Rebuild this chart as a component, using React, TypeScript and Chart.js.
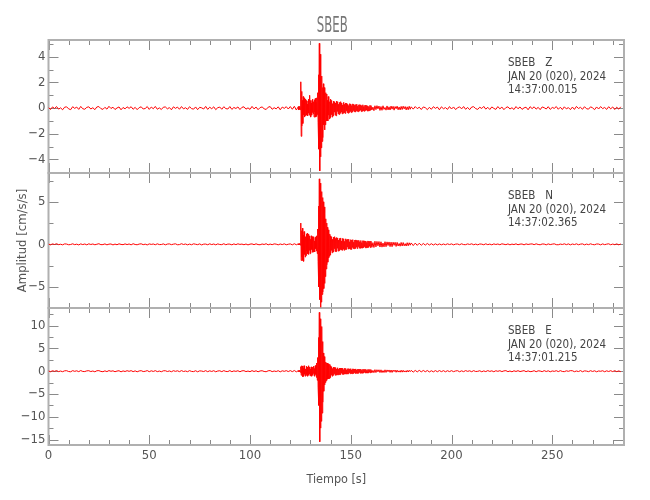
import { useEffect, useRef } from "react";
import { Chart, registerables } from "chart.js";

Chart.register(...registerables);

// ---------- text ----------
const STATION = "SBEB";
const COMPONENTS = ["Z", "N", "E"];
const DATE_LABEL = "JAN 20 (020), 2024";
const START_TIMES = ["14:37:00.015", "14:37:02.365", "14:37:01.215"];
const X_TITLE = "Tiempo [s]";
const Y_TITLE = "Amplitud [cm/s/s]";

// ---------- axes ----------
const X_MIN = 0;
const X_MAX = 285.6;
const X_MAJOR = 50;
const X_MINOR = 10;
const Y_MINS = [-5.06, -7.49, -16.2];
const Y_MAXS = [5.31, 8.39, 13.87];
const Y_MAJORS = [2, 5, 5];
const Y_MINORS = [1, 2.5, 2.5];

// ---------- sampling grid of the traces (segment start time [s], sample step [s]) ----------
const SEG_STARTS = [0, 124, 140, 160, 180];
const SEG_STEPS = [1, 0.2, 0.25, 0.5, 1];

// ---------- Z component (cm/s/s) ----------
const zPre = [
  0.05, -0.11, 0.09, -0.03, 0.12, -0.08, 0.02, -0.13, 0.07, 0.1, -0.06, -0.12, 0.11, -0.02, 0.08, -0.1, 0.13, -0.05, -0.09, 0.06,
  0.1, -0.07, 0.03, -0.12, 0.09, 0.12, -0.04, -0.1, 0.06, -0.08, 0.14, -0.03, 0.07, -0.11, 0.01, 0.09, -0.13, 0.05, -0.06, 0.1,
  -0.02, 0.11, -0.09, 0.06, -0.12, 0.04, 0.1, -0.07, -0.03, 0.12, -0.1, 0.08, -0.05, 0.13, -0.09, 0.02, -0.11, 0.07, 0.09, -0.06,
  0.04, -0.13, 0.1, -0.02, 0.08, -0.09, 0.12, -0.06, 0.03, -0.1, 0.11, -0.04, -0.08, 0.09, -0.12, 0.06, 0.02, -0.07, 0.13, -0.1,
  0.07, -0.05, 0.1, -0.12, 0.03, 0.08, -0.09, 0.11, -0.04, -0.07, 0.12, -0.1, 0.05, -0.03, 0.09, -0.11, 0.06, 0.1, -0.08, 0.02,
  -0.1, 0.13, -0.06, 0.08, -0.12, 0.04, 0.09, -0.05, -0.11, 0.07, 0.12, -0.09, 0.03, -0.06, 0.1, -0.13, 0.08, -0.02, 0.11, -0.07,
  0.12, -0.09, 0.14, -0.15,
];
const zOnset = [
  0.12, -0.15, 0.05, -0.1, 0.15, -0.13,
  2.05, -2.2, 1.3, -1.4, 0.6, -1.2, 0.9, -0.5, 0.8, -0.7,
  0.45, -0.6, 0.7, -0.35, 0.6, -0.55, 0.3, -0.6, 0.55, -0.4,
  0.7, -0.55, 1.0, -0.3, 0.6, -0.7, 0.4, -0.55, 0.6, -0.35,
  0.7, -0.45, 0.5, -0.7, 0.65, -0.3, 0.75, -0.7, 0.45, -0.65,
  0.8, -0.5, 1.2, -1.1,
  2.6, -3.2, 5.05, -4.9, 4.2, -3.8, 2.9, -3.1,
  2.5, -2.6, 1.6, -2.3, 1.9, -1.3, 1.6, -1.7, 1.0, -1.3, 1.2, -0.8, 1.1, -1.0, 0.6, -1.0, 0.9, -0.55, 0.8, -0.85, 0.5, -0.75,
];
const zCoda = [
  0.7, -0.5, 0.6, -0.7, 0.35, -0.6, 0.55, -0.3, 0.5, -0.55,
  0.4, -0.6, 0.55, -0.25, 0.5, -0.45, 0.3, -0.5, 0.45, -0.4,
  0.5, -0.3, 0.4, -0.45, 0.25, -0.4, 0.45, -0.35, 0.3, -0.42,
  0.4, -0.2, 0.38, -0.35, 0.3, -0.4, 0.2, -0.33, 0.35, -0.25,
  0.32, -0.35, 0.2, -0.3, 0.33, -0.18, 0.3, -0.28, 0.22, -0.3,
  0.28, -0.2, 0.3, -0.25, 0.15, -0.28, 0.26, -0.22, 0.27, -0.15,
  0.25, -0.27, 0.18, -0.24, 0.26, -0.2, 0.12, -0.25, 0.22, -0.18,
  0.24, -0.15, 0.2, -0.23, 0.17, -0.22, 0.1, -0.2, 0.21, -0.16,
];
const zLate = [
  0.2, -0.15, 0.08, -0.2, 0.18, -0.12, 0.19, -0.06, 0.16, -0.18,
  0.12, -0.17, 0.18, -0.1, 0.05, -0.16, 0.17, -0.14, 0.1, -0.15,
  0.16, -0.08, 0.14, -0.16, 0.12, -0.05, 0.15, -0.13, 0.09, -0.14,
  0.13, -0.11, 0.15, -0.06, 0.12, -0.14, 0.1, -0.13, 0.14, -0.09,
];
const zPost = [
  0.1, -0.08, 0.12, -0.04, 0.07, -0.11, 0.09, 0.03, -0.12, 0.06, -0.09, 0.11, -0.02, 0.08, -0.13, 0.1, -0.05, 0.04, -0.1, 0.12,
  -0.07, 0.09, -0.11, 0.02, 0.1, -0.06, 0.12, -0.09, 0.05, -0.12, 0.08, 0.11, -0.04, -0.1, 0.07, -0.03, 0.13, -0.08, 0.06, -0.11,
  0.09, -0.02, -0.1, 0.12, -0.06, 0.08, -0.12, 0.04, 0.1, -0.07, 0.03, -0.11, 0.12, -0.05, 0.09, -0.1, 0.02, 0.07, -0.13, 0.11,
  -0.04, 0.1, -0.08, 0.06, -0.12, 0.09, 0.03, -0.07, 0.11, -0.1, 0.05, -0.02, 0.12, -0.09, 0.07, -0.11, 0.1, -0.06, 0.04, -0.12,
  0.08, -0.1, 0.13, -0.03, 0.06, -0.09, 0.11, -0.05, -0.08, 0.1, 0.02, -0.12, 0.09, -0.07, 0.12, -0.04, 0.05, -0.1, 0.11, -0.06,
  0.09, -0.11, 0.07, -0.08, 0.1,
];

// ---------- N component ----------
const nPre = [
  0.03, -0.06, 0.05, -0.02, 0.07, -0.04, 0.01, -0.06, 0.05, 0.03, -0.05, -0.02, 0.06, -0.04, 0.02, -0.07, 0.05, -0.03, 0.04, -0.06,
  0.06, -0.02, 0.04, -0.05, 0.01, 0.07, -0.04, -0.03, 0.05, -0.06, 0.02, 0.04, -0.07, 0.03, -0.05, 0.06, -0.01, -0.04, 0.05, -0.03,
  0.04, -0.06, 0.07, -0.02, -0.05, 0.03, 0.06, -0.04, 0.02, -0.07, 0.05, -0.01, 0.04, -0.05, 0.06, -0.03, -0.02, 0.05, -0.06, 0.03,
  0.05, -0.04, 0.02, 0.06, -0.05, -0.03, 0.07, -0.02, 0.04, -0.06, 0.03, -0.05, 0.06, 0.01, -0.04, 0.05, -0.07, 0.02, 0.03, -0.05,
  0.06, -0.03, 0.04, -0.06, 0.05, -0.02, -0.04, 0.07, -0.05, 0.03, 0.02, -0.06, 0.05, -0.04, 0.06, -0.01, 0.03, -0.05, 0.04, -0.07,
  0.02, 0.05, -0.04, 0.06, -0.03, -0.05, 0.04, -0.02, 0.07, -0.06, 0.03, -0.04, 0.05, 0.02, -0.06, 0.04, -0.03, 0.06, -0.05, 0.01,
  0.05, -0.06, 0.07, -0.05,
];
const nOnset = [
  0.06, -0.07, 0.08, -0.06, 0.1, -0.1,
  2.5, -1.9, 1.6, -1.5, 1.9, -1.9, 1.1, -2.0, 1.5, -1.2,
  1.4, -1.5, 0.9, -1.3, 1.2, -0.8, 1.3, -1.1, 0.7, -1.2,
  1.2, -0.7, 1.0, -1.1, 0.6, -1.0, 1.0, -0.6, 0.9, -0.95,
  0.5, -0.9, 0.9, -0.8, 0.4, -0.9, 0.8, -0.5, 0.9, -0.8,
  1.0, -1.1, 1.8, -2.0,
  4.5, -5.0, 7.7, -6.5, 7.2, -7.4, 6.6, -6.8,
  6.2, -5.9, 5.5, -5.6, 5.0, -5.2, 4.4, -4.6, 3.6, -3.8, 3.0, -2.9, 2.5, -2.4, 2.0, -2.1, 1.7, -1.6, 1.4, -1.4, 1.2, -1.25,
];
const nCoda = [
  1.0, -0.7, 0.9, -1.0, 0.6, -0.9, 0.85, -0.5, 0.9, -0.85,
  0.7, -0.85, 0.8, -0.45, 0.75, -0.8, 0.5, -0.75, 0.7, -0.6,
  0.75, -0.65, 0.4, -0.7, 0.7, -0.55, 0.65, -0.7, 0.35, -0.6,
  0.65, -0.6, 0.55, -0.3, 0.6, -0.55, 0.6, -0.5, 0.3, -0.58,
  0.55, -0.6, 0.5, -0.35, 0.55, -0.5, 0.25, -0.52, 0.5, -0.48,
  0.52, -0.3, 0.48, -0.5, 0.45, -0.25, 0.47, -0.45, 0.3, -0.46,
  0.45, -0.42, 0.2, -0.44, 0.43, -0.38, 0.42, -0.25, 0.4, -0.41,
  0.38, -0.4, 0.22, -0.38, 0.4, -0.35, 0.37, -0.2, 0.36, -0.38,
];
const nLate = [
  0.38, -0.35, 0.2, -0.37, 0.36, -0.3, 0.34, -0.18, 0.33, -0.32,
  0.3, -0.33, 0.15, -0.3, 0.31, -0.28, 0.29, -0.14, 0.28, -0.27,
  0.26, -0.28, 0.25, -0.12, 0.24, -0.25, 0.23, -0.2, 0.1, -0.22,
  0.22, -0.2, 0.21, -0.18, 0.08, -0.2, 0.19, -0.17, 0.18, -0.1,
];
const nPost = [
  0.16, -0.15, 0.14, -0.12, 0.13, -0.11, 0.1, -0.09, 0.1, -0.08, 0.07, -0.08, 0.06, -0.07, 0.05, -0.06, 0.04, -0.05, 0.06, -0.03,
  0.05, -0.06, 0.02, 0.04, -0.05, 0.06, -0.03, -0.04, 0.05, -0.02, 0.06, -0.05, 0.03, -0.06, 0.04, 0.02, -0.05, 0.06, -0.04, 0.03,
  -0.06, 0.05, -0.02, 0.04, -0.05, 0.06, 0.01, -0.04, 0.05, -0.06, 0.03, -0.03, 0.06, -0.05, 0.02, 0.04, -0.06, 0.05, -0.02, 0.03,
  0.05, -0.04, 0.06, -0.02, -0.05, 0.04, 0.03, -0.06, 0.05, -0.03, 0.02, 0.06, -0.04, -0.05, 0.03, -0.02, 0.06, -0.04, 0.05, -0.06,
  0.04, -0.03, 0.06, -0.05, 0.02, 0.05, -0.06, 0.03, -0.04, 0.06, -0.02, -0.05, 0.04, 0.03, -0.06, 0.05, -0.04, 0.02, 0.06, -0.05,
  0.03, -0.04, 0.05, -0.06, 0.04,
];

// ---------- E component ----------
const ePre = [
  0.06, -0.12, 0.1, -0.04, 0.13, -0.09, 0.03, -0.11, 0.08, 0.11, -0.07, -0.13, 0.12, -0.03, 0.09, -0.1, 0.14, -0.06, -0.08, 0.07,
  0.11, -0.08, 0.04, -0.13, 0.1, 0.12, -0.05, -0.11, 0.07, -0.09, 0.13, -0.02, 0.08, -0.12, 0.03, 0.1, -0.14, 0.06, -0.07, 0.11,
  -0.03, 0.12, -0.1, 0.07, -0.13, 0.05, 0.11, -0.08, -0.02, 0.13, -0.11, 0.09, -0.06, 0.12, -0.1, 0.03, -0.12, 0.08, 0.1, -0.07,
  0.05, -0.12, 0.11, -0.03, 0.09, -0.1, 0.13, -0.07, 0.04, -0.11, 0.12, -0.05, -0.09, 0.1, -0.13, 0.07, 0.03, -0.08, 0.12, -0.11,
  0.08, -0.06, 0.11, -0.13, 0.04, 0.09, -0.1, 0.12, -0.05, -0.08, 0.13, -0.11, 0.06, -0.04, 0.1, -0.12, 0.07, 0.11, -0.09, 0.03,
  -0.11, 0.12, -0.07, 0.09, -0.13, 0.05, 0.1, -0.06, -0.12, 0.08, 0.13, -0.1, 0.04, -0.07, 0.11, -0.14, 0.09, -0.03, 0.12, -0.08,
  0.13, -0.1, 0.15, -0.14,
];
const eOnset = [
  0.12, -0.1, 0.15, -0.12, 0.2, -0.25,
  1.0, -0.9, 1.2, -0.5, 1.1, -1.2, 0.6, -1.1, 1.2, -0.7,
  0.9, -1.1, 0.5, -0.9, 1.1, -0.6, 0.9, -1.1, 0.4, -0.9,
  1.2, -0.6, 0.9, -1.0, 0.5, -0.9, 0.95, -1.1, 0.6, -0.9,
  0.9, -0.5, 1.1, -0.9, 0.6, -1.1, 1.2, -0.7, 1.3, -1.4,
  1.8, -2.0, 3.0, -3.5,
  7.4, -7.5, 12.9, -15.5, 11.5, -12.5, 10.8, -11.0,
  9.8, -9.2, 6.5, -6.8, 4.0, -4.4, 3.2, -3.0, 2.4, -2.5, 2.0, -2.1, 1.8, -1.9, 1.8, -1.7, 1.6, -1.7, 1.5, -1.6, 1.5, -1.4,
];
const eCoda = [
  1.2, -0.8, 1.0, -1.1, 0.6, -0.9, 0.9, -0.55, 0.85, -0.9,
  0.8, -0.85, 0.5, -0.8, 0.75, -0.8, 0.45, -0.75, 0.7, -0.75,
  0.7, -0.4, 0.7, -0.68, 0.65, -0.7, 0.35, -0.62, 0.65, -0.6,
  0.6, -0.62, 0.3, -0.6, 0.55, -0.58, 0.55, -0.3, 0.5, -0.55,
  0.55, -0.5, 0.28, -0.55, 0.52, -0.5, 0.5, -0.3, 0.48, -0.5,
  0.5, -0.45, 0.25, -0.48, 0.47, -0.45, 0.45, -0.22, 0.44, -0.45,
  0.45, -0.42, 0.2, -0.44, 0.42, -0.4, 0.4, -0.2, 0.41, -0.4,
  0.4, -0.38, 0.18, -0.4, 0.38, -0.37, 0.37, -0.2, 0.36, -0.35,
];
const eLate = [
  0.35, -0.34, 0.18, -0.33, 0.34, -0.3, 0.32, -0.15, 0.31, -0.3,
  0.3, -0.31, 0.14, -0.29, 0.3, -0.27, 0.28, -0.12, 0.27, -0.26,
  0.26, -0.27, 0.24, -0.1, 0.25, -0.24, 0.23, -0.2, 0.1, -0.22,
  0.22, -0.21, 0.2, -0.19, 0.08, -0.2, 0.19, -0.18, 0.2, -0.1,
];
const ePost = [
  0.18, -0.2, 0.17, -0.15, 0.18, -0.14, 0.16, -0.12, 0.15, -0.16, 0.1, -0.14, 0.13, -0.12, 0.14, -0.1, 0.12, -0.13, 0.11, -0.09,
  0.12, -0.1, 0.05, 0.11, -0.12, 0.08, -0.1, 0.13, -0.04, 0.09, -0.11, 0.12, -0.07, -0.03, 0.1, -0.12, 0.06, -0.09, 0.13, -0.05,
  0.08, -0.12, 0.1, -0.03, 0.11, -0.09, 0.06, 0.12, -0.1, 0.04, -0.13, 0.09, -0.06, 0.11, -0.08, 0.02, 0.12, -0.11, 0.07, -0.1,
  -0.05, 0.11, -0.12, 0.08, 0.03, -0.1, 0.12, -0.07, 0.09, -0.13, 0.05, -0.04, 0.11, -0.09, 0.12, -0.06, -0.1, 0.08, -0.03, 0.12,
  0.1, -0.11, 0.04, -0.08, 0.13, -0.12, 0.07, 0.02, -0.1, 0.11, -0.06, 0.09, -0.13, 0.05, -0.02, 0.1, -0.12, 0.08, -0.07, 0.11,
  -0.09, 0.12, -0.1, 0.06, -0.11,
];

const TRACES = [
  [zPre, zOnset, zCoda, zLate, zPost],
  [nPre, nOnset, nCoda, nLate, nPost],
  [ePre, eOnset, eCoda, eLate, ePost],
];

// ---------- styles ----------
const FONT = '"Liberation Sans Narrow", "DejaVu Sans Condensed", "Liberation Sans", sans-serif';
const TEXT_COLOR = "#555";
const FRAME_COLOR = "#b0b0b0";
const TICK_COLOR = "#8a8a8a";
const LINE_COLOR = "#ff0000";
const PANEL_IDS = ["yZ", "yN", "yE"];
const PANEL_WEIGHTS = [133, 135, 137];

function buildPoints(segs: number[][]) {
  const pts: { x: number; y: number }[] = [];
  segs.forEach((vals, s) => {
    vals.forEach((v, i) => {
      pts.push({ x: SEG_STARTS[s] + i * SEG_STEPS[s], y: v });
    });
  });
  return pts;
}

const minus = (v: number | string) => String(v).replace("-", "\u2212");

const seisPlugin = {
  id: "seisFrame",
  beforeDatasetsDraw(chart: any) {
    const ctx = chart.ctx as CanvasRenderingContext2D;
    const xs = chart.scales.x;
    const { left, right } = chart.chartArea;
    ctx.save();
    PANEL_IDS.forEach((id, k) => {
      const ys = chart.scales[id];
      const top = ys.top;
      const bottom = ys.bottom;
      ctx.strokeStyle = TICK_COLOR;
      ctx.lineWidth = 1;
      ctx.beginPath();
      const i0 = Math.ceil(Y_MINS[k] / Y_MINORS[k]);
      const i1 = Math.floor(Y_MAXS[k] / Y_MINORS[k]);
      for (let i = i0; i <= i1; i++) {
        const v = i * Y_MINORS[k];
        const py = Math.round(ys.getPixelForValue(v)) + 0.5;
        const major = Math.abs(v / Y_MAJORS[k] - Math.round(v / Y_MAJORS[k])) < 1e-6;
        const len = major ? 10 : 5;
        ctx.moveTo(left, py);
        ctx.lineTo(left + len, py);
        ctx.moveTo(right, py);
        ctx.lineTo(right - len, py);
      }
      const n = Math.floor(X_MAX / X_MINOR);
      for (let i = 0; i <= n; i++) {
        const t = i * X_MINOR;
        const px = Math.round(xs.getPixelForValue(t)) + 0.5;
        const major = t % X_MAJOR === 0;
        const len = major ? 10 : 5;
        ctx.moveTo(px, top);
        ctx.lineTo(px, top + len);
        ctx.moveTo(px, bottom);
        ctx.lineTo(px, bottom - len);
      }
      ctx.stroke();
      ctx.strokeStyle = FRAME_COLOR;
      ctx.lineWidth = 2;
      ctx.strokeRect(left, top, right - left, bottom - top);
    });
    ctx.restore();
  },
  afterDraw(chart: any) {
    const ctx = chart.ctx as CanvasRenderingContext2D;
    const { left, right, top, bottom } = chart.chartArea;
    const cx = (left + right) / 2;
    // title
    ctx.save();
    ctx.fillStyle = "#777";
    ctx.font = `21px ${FONT}`;
    ctx.textAlign = "center";
    ctx.textBaseline = "alphabetic";
    ctx.translate(cx - 4, 32);
    ctx.scale(0.62, 1);
    ctx.fillText(STATION, 0, 0);
    ctx.restore();
    // x title
    ctx.save();
    ctx.fillStyle = TEXT_COLOR;
    ctx.font = `12.5px ${FONT}`;
    ctx.textAlign = "center";
    ctx.textBaseline = "alphabetic";
    ctx.fillText(X_TITLE, cx, bottom + 38);
    ctx.restore();
    // y title
    ctx.save();
    ctx.fillStyle = TEXT_COLOR;
    ctx.font = `13px ${FONT}`;
    ctx.textAlign = "center";
    ctx.textBaseline = "middle";
    ctx.translate(22.5, (top + bottom) / 2 - 2);
    ctx.rotate(-Math.PI / 2);
    ctx.fillText(Y_TITLE, 0, 0);
    ctx.restore();
    // panel annotations
    PANEL_IDS.forEach((id, k) => {
      const ys = chart.scales[id];
      ctx.save();
      ctx.fillStyle = "#444";
      ctx.font = `11.5px ${FONT}`;
      ctx.textAlign = "left";
      ctx.textBaseline = "alphabetic";
      const x0 = 508;
      ctx.fillText(`${STATION}   ${COMPONENTS[k]}`, x0, ys.top + 26);
      ctx.fillText(DATE_LABEL, x0, ys.top + 40);
      ctx.fillText(START_TIMES[k], x0, ys.top + 53);
      ctx.restore();
    });
  },
};

export default function App() {
  const ref = useRef<HTMLCanvasElement | null>(null);
  useEffect(() => {
    if (!ref.current) return;
    const tickFont = { family: FONT, size: 13 };
    const yScale = (k: number) => ({
      type: "linear" as const,
      position: "left" as const,
      stack: "seis",
      stackWeight: PANEL_WEIGHTS[k],
      weight: 3 - k,
      min: Y_MINS[k],
      max: Y_MAXS[k],
      grid: { display: false, drawTicks: false },
      border: { display: false },
      ticks: {
        stepSize: Y_MAJORS[k],
        includeBounds: false,
        padding: 3,
        font: tickFont,
        color: TEXT_COLOR,
        autoSkip: false,
        callback: (v: any) => minus(v),
      },
      afterFit: (s: any) => {
        s.width = 48.5;
      },
    });
    const scales: any = {
      x: {
        type: "linear",
        position: "bottom",
        min: X_MIN,
        max: X_MAX,
        grid: { display: false, drawTicks: false },
        border: { display: false },
        ticks: {
          stepSize: X_MAJOR,
          includeBounds: false,
          padding: 3,
          font: tickFont,
          color: TEXT_COLOR,
          maxRotation: 0,
          autoSkip: false,
        },
        afterFit: (s: any) => {
          s.height = 55;
        },
      },
    };
    PANEL_IDS.forEach((id, k) => {
      scales[id] = yScale(k);
    });
    const chart = new Chart(ref.current, {
      type: "line",
      data: {
        datasets: TRACES.map((segs, k) => ({
          label: COMPONENTS[k],
          data: buildPoints(segs),
          yAxisID: PANEL_IDS[k],
          xAxisID: "x",
          borderColor: LINE_COLOR,
          borderWidth: 1,
          pointRadius: 0,
          tension: 0,
          fill: false,
        })),
      },
      options: {
        responsive: false,
        animation: false,
        devicePixelRatio: 1,
        parsing: false,
        normalized: true,
        layout: { padding: { top: 40, right: 26, left: 0, bottom: 0 } },
        plugins: { legend: { display: false }, tooltip: { enabled: false }, title: { display: false } },
        events: [],
        scales,
      },
      plugins: [seisPlugin],
    });
    return () => chart.destroy();
  }, []);
  return (
    <div style={{ position: "absolute", left: 0, top: 0, width: 650, height: 500, background: "#fff" }}>
      <canvas ref={ref} width={650} height={500} style={{ display: "block" }} />
    </div>
  );
}
